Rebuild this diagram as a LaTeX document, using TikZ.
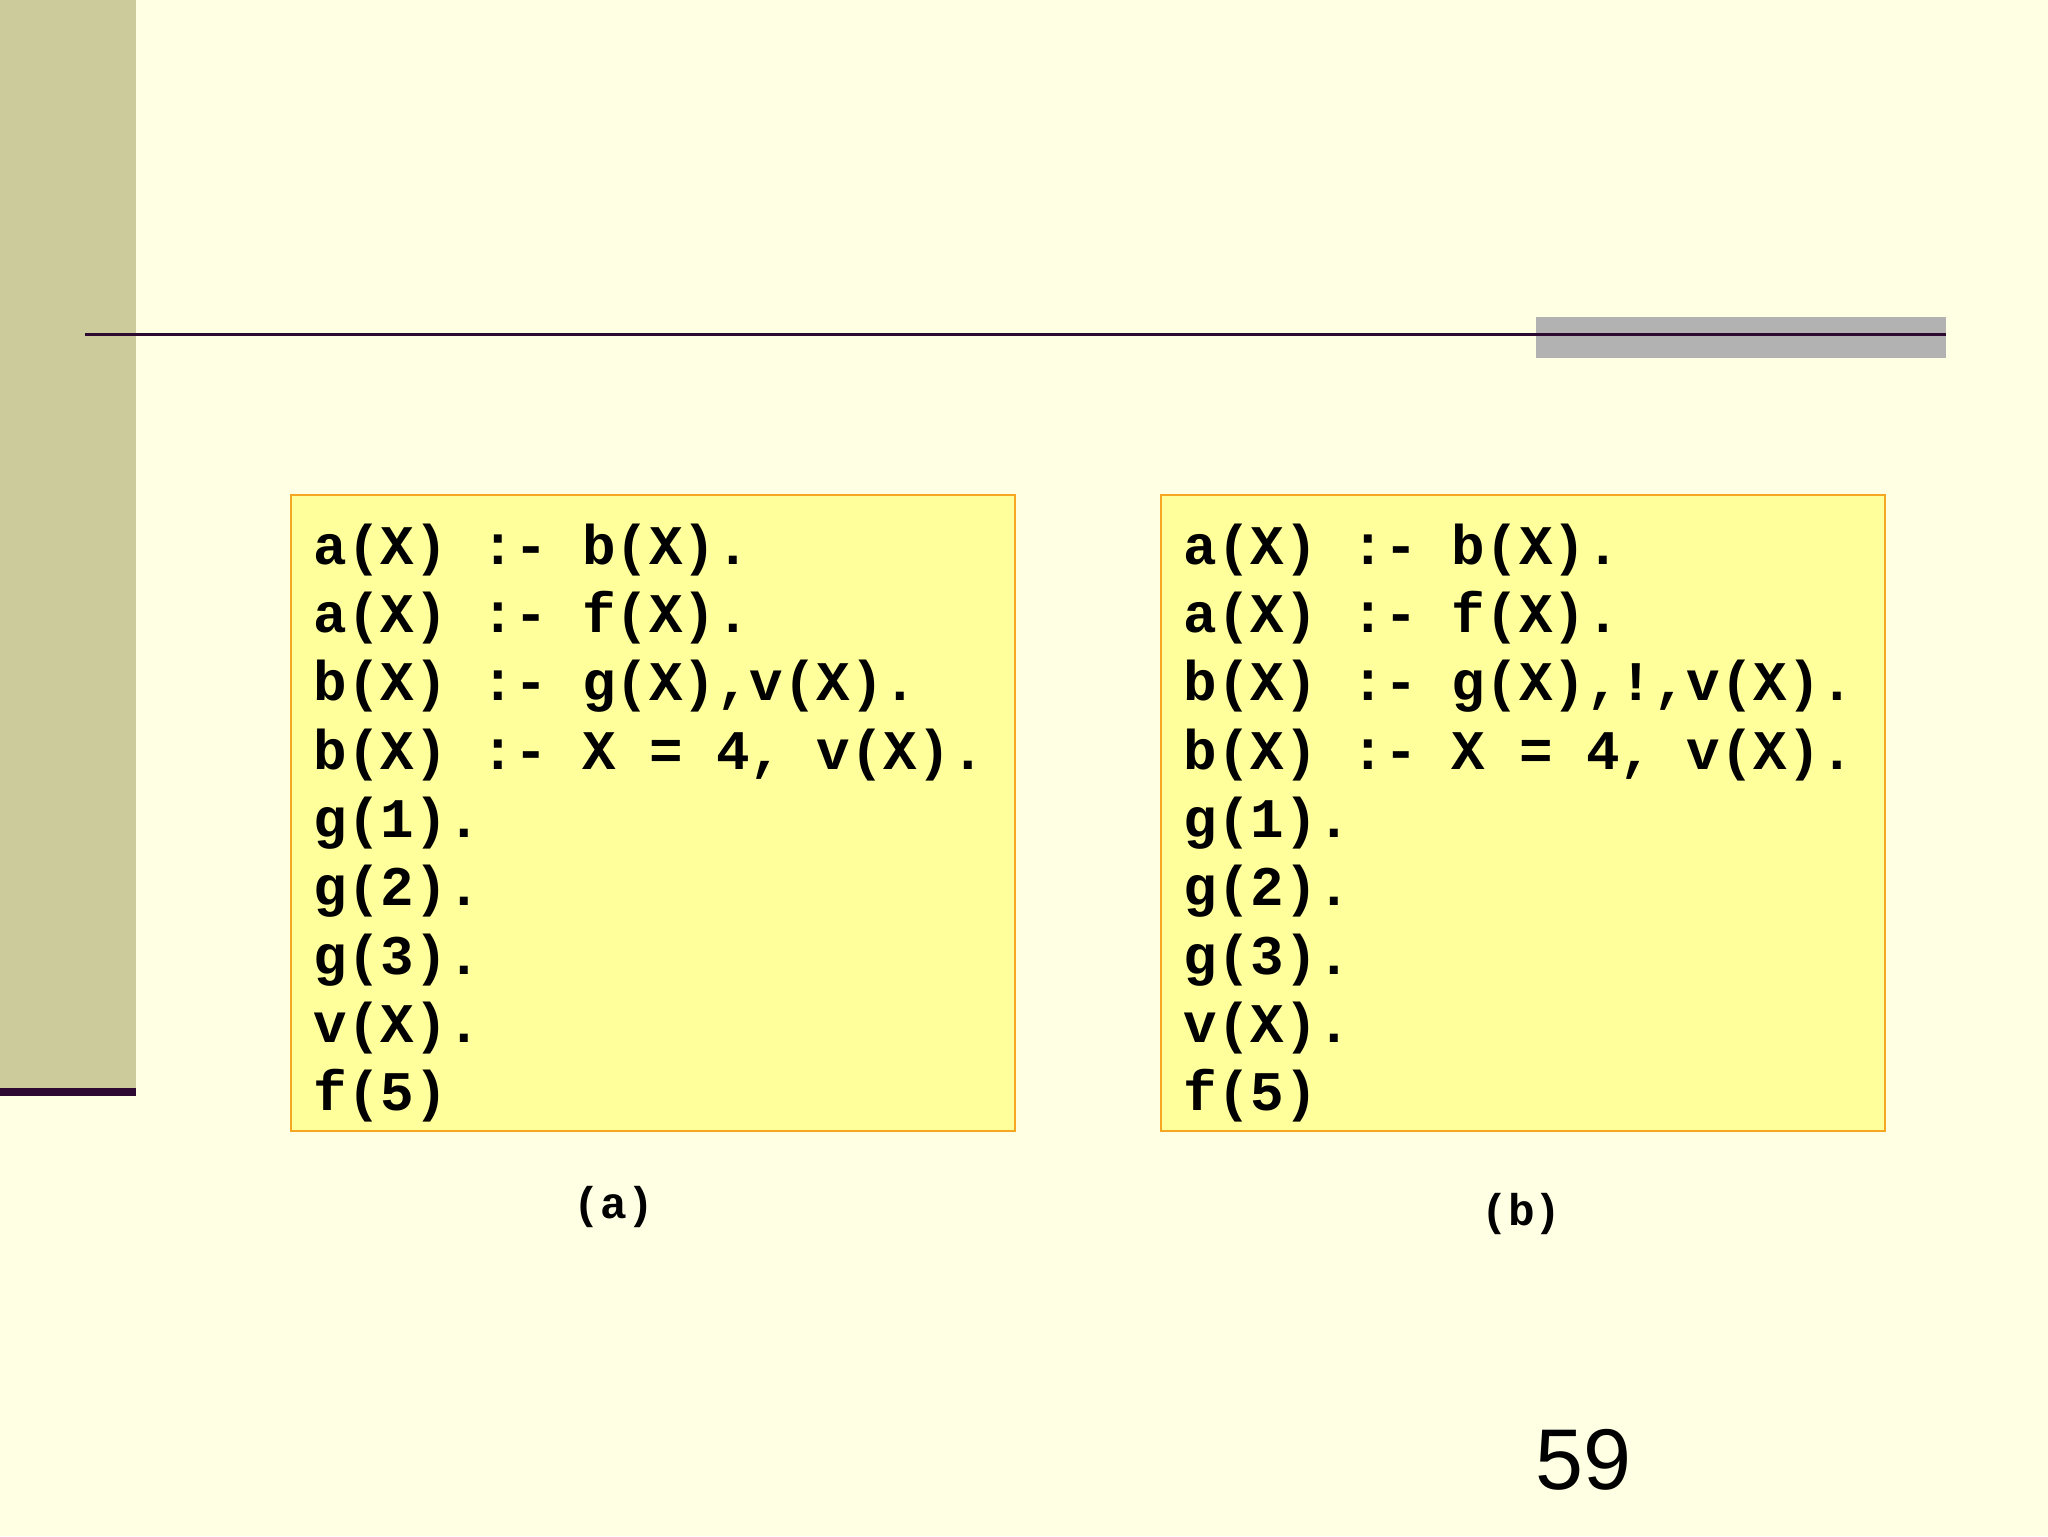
\documentclass[tikz,border=0pt]{standalone}
\usepackage{fontspec}
\setmonofont{Liberation Mono}
\setsansfont{Liberation Sans}
\definecolor{bg}{HTML}{FFFFE3}
\definecolor{bar}{HTML}{CBCB9B}
\definecolor{dark}{HTML}{2E0A33}
\definecolor{boxfill}{HTML}{FFFF9C}
\definecolor{boxline}{HTML}{F5A623}
\tikzset{
  code/.style={anchor=base west,inner sep=0pt,font=\fontsize{42.8}{52.3}\selectfont\ttfamily\bfseries},
  lbl/.style={anchor=base,inner sep=0pt,font=\fontsize{34}{40}\selectfont\ttfamily\bfseries},
  prog/.style={fill=boxfill,draw=boxline,line width=1.5pt}
}
\begin{document}
\begin{tikzpicture}[x=1pt,y=-1pt]
\fill[bg] (0,0) rectangle (1568,1176);
\useasboundingbox (0,0) rectangle (1568,1176);
\fill[bar] (0,0) rectangle (104,833);
\fill[dark] (0,833) rectangle (104,839);
\fill[gray!60] (1176,243) rectangle (1490,274);
\draw[dark,line width=2.5pt] (65,256) -- (1490,256);
\draw[prog] (223,379) rectangle (777,866);
\draw[prog] (889,379) rectangle (1443,866);
\foreach \x/\p in {240/a,906/b}{
  \node[code] (\p1) at (\x,432) {a(X) :- b(X).};
  \node[code] (\p2) at (\x,484.3) {a(X) :- f(X).};
  \node[code] (\p4) at (\x,588.9) {b(X) :- X = 4, v(X).};
  \node[code] (\p5) at (\x,641.2) {g(1).};
  \node[code] (\p6) at (\x,693.5) {g(2).};
  \node[code] (\p7) at (\x,745.8) {g(3).};
  \node[code] (\p8) at (\x,798.1) {v(X).};
  \node[code] (\p9) at (\x,850.4) {f(5)};
}
\node[code] (a3) at (240,536.6) {b(X) :- g(X),v(X).};
\node[code] (b3) at (906,536.6) {b(X) :- g(X),!,v(X).};
\node[lbl] (la) at (470,933) {(a)};
\node[lbl] (lb) at (1165,938) {(b)};
\node[anchor=base,inner sep=0pt,font=\fontsize{66}{70}\selectfont\sffamily] (pg) at (1212,1140) {59};
\end{tikzpicture}
\end{document}
